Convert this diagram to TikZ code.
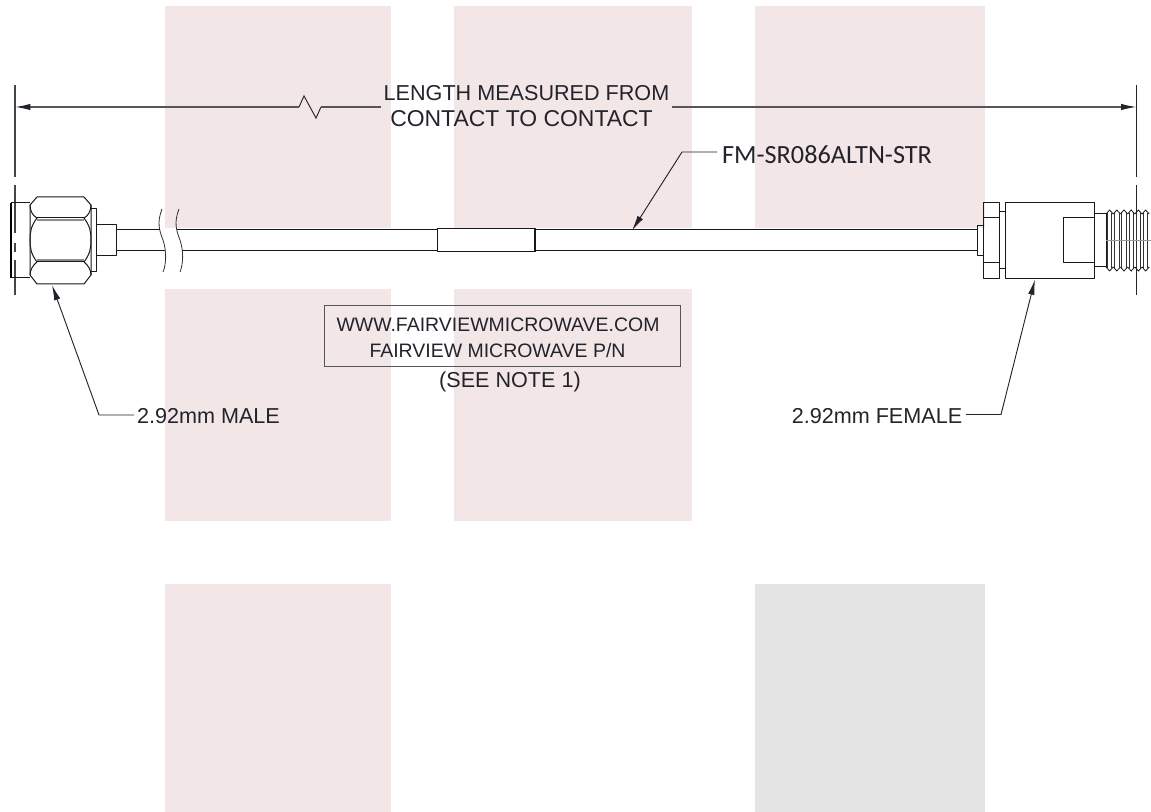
\documentclass[tikz,border=0pt]{standalone}
\usepackage{fontspec}
\setmainfont{Liberation Sans}
\newfontfamily\calfont{Carlito}
\usetikzlibrary{arrows.meta}
\definecolor{pinkbg}{HTML}{F3E6E7}
\definecolor{graybg}{HTML}{E5E5E5}
\definecolor{inkc}{HTML}{23232C}
\definecolor{dimc}{HTML}{55555C}
\tikzset{
  pinkblock/.style={fill=pinkbg,draw=none},
  grayblock/.style={fill=graybg,draw=none},
  part/.style={draw=black!90,line width=0.75pt,line join=round},
  partthin/.style={draw=black!80,line width=0.6pt},
  heavy/.style={draw=black,line width=1.3pt},
  dimline/.style={draw=dimc,line width=0.95pt},
  extline/.style={draw=dimc!80!black,line width=0.95pt},
  leader/.style={draw=inkc,line width=0.7pt},
  tipped/.style={-{Latex[length=11.5pt,width=4.8pt,color=inkc]}},
  lbl/.style={font=\fontsize{16.2pt}{19pt}\selectfont,text=inkc,inner sep=0pt,anchor=center},
  lblwide/.style={lbl,font=\fontsize{17.2pt}{19pt}\selectfont},
  lblsmall/.style={lbl,font=\fontsize{14.6pt}{17pt}\selectfont},
  calbl/.style={font=\calfont\fontsize{19.7pt}{22pt}\selectfont,text=inkc,inner sep=0pt,anchor=center},
  labelbox/.style={draw=dimc,line width=0.75pt}
}
\begin{document}
\begin{tikzpicture}[x=0.75pt,y=-0.75pt]
\useasboundingbox (0,0) rectangle (1151,812);
% background blocks
\foreach \xa/\xb in {165/391,454/692,755/985}
  \fill[pinkblock] (\xa,6) rectangle (\xb,228);
\foreach \xa/\xb in {165/391,454/692}
  \fill[pinkblock] (\xa,289) rectangle (\xb,521);
\fill[pinkblock] (165,584) rectangle (391,812);
\fill[grayblock] (755,584) rectangle (985,812);
% extension lines
\draw[extline] (15,85) -- (15,177) (15,185) -- (15,233) (15,243) -- (15,252) (15,260) -- (15,295);
\draw[draw=inkc,line width=0.9pt] (1136.5,85) -- (1136.5,177) (1136.5,185) -- (1136.5,295);
% dimension line
\coordinate (dimL) at (15,107);
\coordinate (dimR) at (1136.5,107);
\node[lbl] (lenA) at (526.5,93) {LENGTH MEASURED FROM};
\node[lblwide] (lenB) at (521.5,119) {CONTACT TO CONTACT};
\coordinate (zagA) at (299,107);
\coordinate (zagB) at (304,96);
\coordinate (zagC) at (316,118);
\coordinate (zagD) at (321,107);
\coordinate (dimLend) at (381,107);
\coordinate (dimRend) at (672,107);
\draw[dimline,tipped] (zagA) -- (dimL);
\draw[leader] (zagA) -- (zagB) -- (zagC) -- (zagD);
\draw[dimline] (zagD) -- (dimLend);
\draw[dimline,tipped] (dimRend) -- (dimR);
% cable
\draw[part] (116,230) -- (160,230) (116,251) -- (165,251);
\draw[part] (177,230) -- (977,230) (182,251) -- (977,251);
\draw[part,fill=white] (437,229) rectangle (535,252);
\draw[part,line width=1.1pt] (535,229) -- (535,252);
% cable break
\draw[partthin] (162,209) .. controls (157,222) and (159,230) .. (163,240) .. controls (167,252) and (166,265) .. (163,272);
\draw[partthin] (179,209) .. controls (174,222) and (176,230) .. (180,240) .. controls (184,252) and (183,265) .. (180,272);
% male connector
\draw[heavy] (11,203) -- (11,278);
\draw[part] (11,203) -- (30,203) (11,278) -- (30,278);
\draw[part] (37,197) -- (84,197) -- (91,205) -- (91,275) -- (84,284) -- (37,284) -- (30,275) -- (30,205) -- cycle;
\draw[part] (37,218) -- (84,218) (37,262) -- (84,262);
\draw[partthin,draw=black!45,line width=0.9pt] (37,220) -- (84,220) (37,260) -- (84,260);
\draw[part] (30,205) .. controls (30,211) and (33,216) .. (37,218) .. controls (31,226) and (30,232) .. (30,240) .. controls (30,248) and (31,254) .. (37,262) .. controls (33,265) and (30,270) .. (30,275);
\draw[part] (91,205) .. controls (91,211) and (88,216) .. (84,218) .. controls (90,226) and (91,232) .. (91,240) .. controls (91,248) and (90,254) .. (84,262) .. controls (88,265) and (91,270) .. (91,275);
\draw[part] (91,209) -- (96.5,209) -- (96.5,272) -- (91,272);
\draw[part] (96.5,225) -- (116,225) -- (116,256) -- (96.5,256);
% female connector
\draw[part] (977,226) rectangle (983.5,256);
\draw[part] (983.5,203) rectangle (999.5,279);
\draw[part] (983.5,218) -- (999.5,218) (983.5,263) -- (999.5,263);
\draw[part] (999.5,212) -- (1005,212) (999.5,269) -- (1005,269);
\draw[part] (1005,203) rectangle (1094,279);
\draw[part] (1094,218) -- (1063,218) -- (1063,263) -- (1094,263);
\draw[part] (1094,214) -- (1106,214) -- (1106,267) -- (1094,267);
\foreach \tx in {1106,1113.2,1120.4,1127.6,1134.8,1142} {
  \draw[partthin,draw=black!90] (\tx,214) -- (\tx+3.6,210) -- (\tx+7.2,214) (\tx,267) -- (\tx+3.6,271) -- (\tx+7.2,267);
  \draw[partthin] (\tx+1.4,213) -- (\tx+1.4,268) (\tx+5.8,213) -- (\tx+5.8,268);
}
\draw[partthin,draw=black!40] (1106,240.5) -- (1151,240.5);
% labels and leaders
\coordinate (maleTip) at (52,285);
\coordinate (maleBend) at (99,415);
\coordinate (maleEnd) at (134,415);
\node[lbl] (maleLbl) at (208.5,416) {2.92mm MALE};
\draw[leader,tipped] (maleEnd) -- (maleBend) -- (maleTip);
\coordinate (femTip) at (1035,279.5);
\coordinate (femBend) at (1001,414.5);
\coordinate (femEnd) at (966,414.5);
\node[lbl] (femLbl) at (877,416) {2.92mm FEMALE};
\draw[leader,tipped] (femEnd) -- (femBend) -- (femTip);
\coordinate (fmTip) at (632,230.5);
\coordinate (fmBend) at (682,152);
\coordinate (fmEnd) at (717,152);
\node[calbl] (fmLbl) at (827,155) {FM-SR086ALTN-STR};
\draw[leader,tipped] (fmEnd) -- (fmBend) -- (fmTip);
% marking box
\node[labelbox,minimum width=267pt,minimum height=45pt,inner sep=0pt] (markBox) at (502,336) {};
\node[lblsmall] (markA) at (498,325) {WWW.FAIRVIEWMICROWAVE.COM};
\node[lblsmall] (markB) at (497.5,351) {FAIRVIEW MICROWAVE P/N};
\node[lbl] (markC) at (510,381.5) {(SEE NOTE 1)};
\end{tikzpicture}
\end{document}
